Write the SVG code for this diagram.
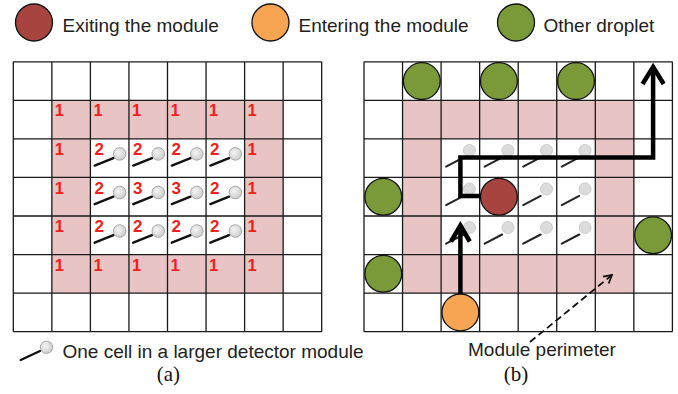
<svg xmlns="http://www.w3.org/2000/svg" xmlns:xlink="http://www.w3.org/1999/xlink" width="678" height="394" viewBox="0 0 678 394">
<style>
.grid{stroke:#1a1a1a;stroke-width:1.3;fill:none}
.pink{fill:#E9C4C4;fill-rule:evenodd}
.n1{font-family:"Liberation Sans",Arial,sans-serif;font-weight:bold;font-size:16.5px;fill:#F02020}
.n2{font-family:"Liberation Sans",Arial,sans-serif;font-weight:bold;font-size:17px;fill:#F02020}
.lbl{font-family:"Liberation Sans",Arial,sans-serif;font-size:19px;fill:#222}
.cap{font-family:"Liberation Serif","Times New Roman",serif;font-size:21px;fill:#111;text-anchor:middle}
.drop{stroke:#111;stroke-width:1.3}
.red{fill:#A8443F}
.orange{fill:#F8A553}
.green{fill:#7A9A3A}
.path{stroke:#000;stroke-width:4.5;fill:none;stroke-linejoin:miter}
</style>
<defs>
<radialGradient id="gl" cx="0.4" cy="0.4" r="0.7">
<stop offset="0" stop-color="#f4f4f4"/>
<stop offset="1" stop-color="#c8c8c8"/>
</radialGradient>
<g id="pinL">
<line x1="4.3" y1="26.7" x2="23" y2="19.2" stroke="#111" stroke-width="2.4" stroke-linecap="round"/>
<circle cx="29.3" cy="15" r="6.3" fill="url(#gl)" stroke="#999" stroke-width="0.8"/>
</g>
<g id="pinR">
<line x1="5" y1="27.7" x2="22.5" y2="18.5" stroke="#222" stroke-width="2" stroke-linecap="round"/>
<circle cx="28.3" cy="11.5" r="6" fill="#dcdcdc" stroke="#c4c4c4" stroke-width="0.8"/>
</g>
<marker id="openArrow" viewBox="0 0 12 12" refX="10" refY="6" markerWidth="12" markerHeight="12" markerUnits="userSpaceOnUse" orient="auto">
<path d="M2,1.5 L10,6 L2,10.5" fill="none" stroke="#111" stroke-width="1.8"/>
</marker>
</defs>

<g id="legend">
<g id="legend-exiting">
<ellipse cx="34" cy="22.5" rx="18.5" ry="18.5" class="drop red"/>
<text x="62.5" y="31.5" class="lbl">Exiting the module</text>
</g>
<g id="legend-entering">
<ellipse cx="270.5" cy="22.5" rx="18.5" ry="18.5" class="drop orange"/>
<text x="298.5" y="31.5" class="lbl">Entering the module</text>
</g>
<g id="legend-other">
<ellipse cx="516" cy="22.5" rx="18.5" ry="18.5" class="drop green"/>
<text x="543.5" y="31.5" class="lbl">Other droplet</text>
</g>
<g id="legend-cell">
<line x1="20.7" y1="360" x2="40" y2="351" stroke="#111" stroke-width="2.4" stroke-linecap="round"/>
<circle cx="46.5" cy="347.3" r="6.2" fill="url(#gl)" stroke="#999" stroke-width="0.8"/>
<text x="62.5" y="358.3" class="lbl">One cell in a larger detector module</text>
</g>
</g>

<g id="grid-a">
<path class="pink" d="M51.85,100.35 H283.15 V293.1 H51.85 Z M90.4,138.9 V254.55 H244.6 V138.9 Z"/>
<g class="pins">
<use xlink:href="#pinL" x="90.4" y="138.9"/>
<use xlink:href="#pinL" x="128.95" y="138.9"/>
<use xlink:href="#pinL" x="167.5" y="138.9"/>
<use xlink:href="#pinL" x="206.05" y="138.9"/>
<use xlink:href="#pinL" x="90.4" y="177.45"/>
<use xlink:href="#pinL" x="128.95" y="177.45"/>
<use xlink:href="#pinL" x="167.5" y="177.45"/>
<use xlink:href="#pinL" x="206.05" y="177.45"/>
<use xlink:href="#pinL" x="90.4" y="216"/>
<use xlink:href="#pinL" x="128.95" y="216"/>
<use xlink:href="#pinL" x="167.5" y="216"/>
<use xlink:href="#pinL" x="206.05" y="216"/>
</g>
<path class="grid" d="M13.3,61.8 V331.65 M51.85,61.8 V331.65 M90.4,61.8 V331.65 M128.95,61.8 V331.65 M167.5,61.8 V331.65 M206.05,61.8 V331.65 M244.6,61.8 V331.65 M283.15,61.8 V331.65 M321.7,61.8 V331.65 M13.3,61.8 H321.7 M13.3,100.35 H321.7 M13.3,138.9 H321.7 M13.3,177.45 H321.7 M13.3,216 H321.7 M13.3,254.55 H321.7 M13.3,293.1 H321.7 M13.3,331.65 H321.7"/>
<g class="numbers">
<text class="n1" x="54.8" y="116.4">1</text>
<text class="n1" x="93.4" y="116.4">1</text>
<text class="n1" x="131.9" y="116.4">1</text>
<text class="n1" x="170.4" y="116.4">1</text>
<text class="n1" x="209" y="116.4">1</text>
<text class="n1" x="247.5" y="116.4">1</text>
<text class="n1" x="54.8" y="155">1</text>
<text class="n1" x="247.5" y="155">1</text>
<text class="n1" x="54.8" y="193.5">1</text>
<text class="n1" x="247.5" y="193.5">1</text>
<text class="n1" x="54.8" y="232">1</text>
<text class="n1" x="247.5" y="232">1</text>
<text class="n1" x="54.8" y="270.6">1</text>
<text class="n1" x="93.4" y="270.6">1</text>
<text class="n1" x="131.9" y="270.6">1</text>
<text class="n1" x="170.4" y="270.6">1</text>
<text class="n1" x="209" y="270.6">1</text>
<text class="n1" x="247.5" y="270.6">1</text>
<text class="n2" x="94.4" y="155">2</text>
<text class="n2" x="133" y="155">2</text>
<text class="n2" x="171.5" y="155">2</text>
<text class="n2" x="210" y="155">2</text>
<text class="n2" x="94.4" y="193.5">2</text>
<text class="n2" x="133" y="193.5">3</text>
<text class="n2" x="171.5" y="193.5">3</text>
<text class="n2" x="210" y="193.5">2</text>
<text class="n2" x="94.4" y="232">2</text>
<text class="n2" x="133" y="232">2</text>
<text class="n2" x="171.5" y="232">2</text>
<text class="n2" x="210" y="232">2</text>
</g>
<text class="cap" x="168.3" y="381">(a)</text>
</g>

<g id="grid-b">
<path class="pink" d="M402.55,100.35 H633.85 V293.1 H402.55 Z M441.1,138.9 V254.55 H595.3 V138.9 Z"/>
<g class="pins">
<use xlink:href="#pinR" x="441.1" y="138.9"/>
<use xlink:href="#pinR" x="479.65" y="138.9"/>
<use xlink:href="#pinR" x="518.2" y="138.9"/>
<use xlink:href="#pinR" x="556.75" y="138.9"/>
<use xlink:href="#pinR" x="441.1" y="177.45"/>
<use xlink:href="#pinR" x="518.2" y="177.45"/>
<use xlink:href="#pinR" x="556.75" y="177.45"/>
<use xlink:href="#pinR" x="441.1" y="216"/>
<use xlink:href="#pinR" x="479.65" y="216"/>
<use xlink:href="#pinR" x="518.2" y="216"/>
<use xlink:href="#pinR" x="556.75" y="216"/>
</g>
<path class="grid" d="M364,61.8 V331.65 M402.55,61.8 V331.65 M441.1,61.8 V331.65 M479.65,61.8 V331.65 M518.2,61.8 V331.65 M556.75,61.8 V331.65 M595.3,61.8 V331.65 M633.85,61.8 V331.65 M672.4,61.8 V331.65 M364,61.8 H672.4 M364,100.35 H672.4 M364,138.9 H672.4 M364,177.45 H672.4 M364,216 H672.4 M364,254.55 H672.4 M364,293.1 H672.4 M364,331.65 H672.4"/>
<text class="lbl" x="468" y="356">Module perimeter</text>
<text class="cap" x="516" y="381">(b)</text>
</g>

<g id="droplet-green-1"><circle cx="421.8" cy="81.1" r="18.4" class="drop green"/></g>
<g id="droplet-green-2"><circle cx="498.9" cy="81.1" r="18.4" class="drop green"/></g>
<g id="droplet-green-3"><circle cx="576" cy="81.1" r="18.4" class="drop green"/></g>
<g id="droplet-green-4"><circle cx="383.3" cy="196.7" r="18.4" class="drop green"/></g>
<g id="droplet-green-5"><circle cx="653.1" cy="235.2" r="18.4" class="drop green"/></g>
<g id="droplet-green-6"><circle cx="383.3" cy="273.8" r="18.4" class="drop green"/></g>
<g id="droplet-exiting"><circle cx="498.9" cy="196.7" r="18.4" class="drop red"/></g>
<g id="droplet-entering"><circle cx="460.4" cy="312.4" r="18.4" class="drop orange"/></g>

<g id="connectors">
<path class="path" d="M460.4,294 V227"/>
<path class="path" d="M451,241.5 L460.4,225.5 L469.8,241.5"/>
<path class="path" d="M480.5,196 H460.4 V157.5 H653.1 V68"/>
<path class="path" d="M642.5,84 L653.1,67 L663.7,84"/>
<path d="M530,342 L612,275" fill="none" stroke="#111" stroke-width="1.8" stroke-dasharray="7 4" marker-end="url(#openArrow)"/>
</g>
</svg>
